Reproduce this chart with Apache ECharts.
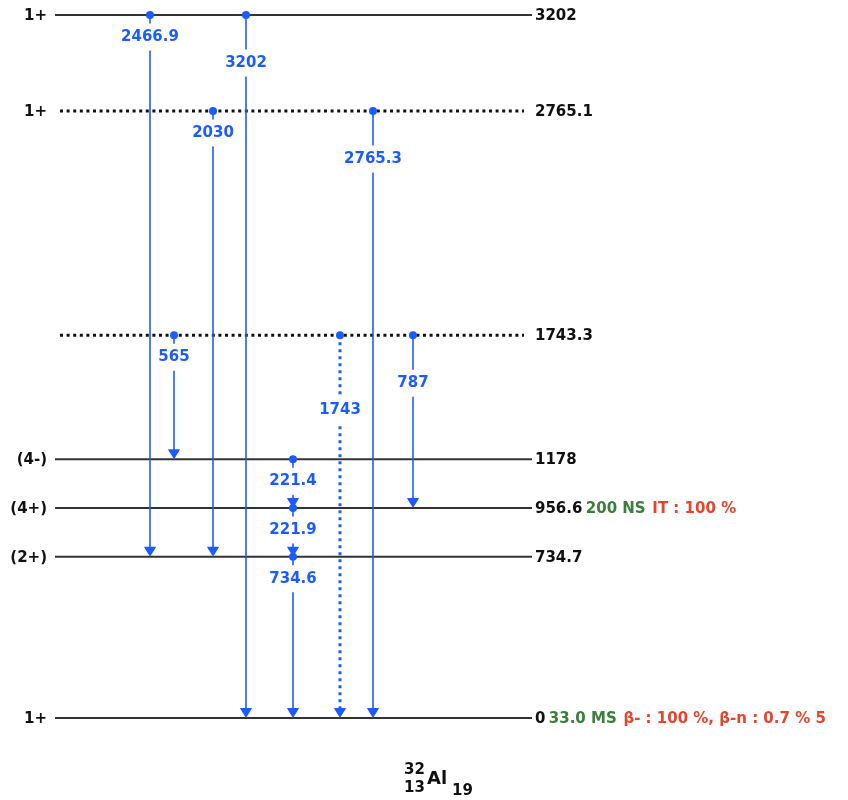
<!DOCTYPE html>
<html>
<head>
<meta charset="utf-8">
<script src="https://cdn.jsdelivr.net/npm/echarts@6/dist/echarts.min.js"></script>
<style>
  html, body { margin: 0; padding: 0; background: #fff; }
  #main { width: 848px; height: 800px; }
</style>
</head>
<body>
<div id="main"></div>
<script>
// levels of 32Al (keV)
var levelEnergy = [0, 734.7, 956.6, 1178, 1743.3, 2765.1, 3202];
var levelLabel = ['0', '734.7', '956.6', '1178', '1743.3', '2765.1', '3202'];
var levelSpin = ['1+', '(2+)', '(4+)', '(4-)', '', '1+', '1+'];
var levelDotted = [false, false, false, false, true, true, false];
var levelHalfLife = ['33.0 MS', '', '200 NS', '', '', '', ''];
var levelDecay = ['β- : 100 %, β-n : 0.7 % 5', '', 'IT : 100 %', '', '', '', ''];

// gamma transitions
var gammaLabel = ['2466.9', '3202', '2030', '2765.3', '565', '1743', '787', '221.4', '221.9', '734.6'];
var gammaFrom = [3202, 3202, 2765.1, 2765.1, 1743.3, 1743.3, 1743.3, 1178, 956.6, 734.7];
var gammaTo = [734.7, 0, 734.7, 0, 1178, 0, 956.6, 956.6, 734.7, 0];
var gammaDotted = [false, false, false, false, false, true, false, false, false, false];

// layout only
var gammaColumn = [150, 246, 213, 373, 174, 340, 413, 293, 293, 293];
var gammaLabelTier = [0, 1, 0, 1, 0, 2, 1, 0, 0, 0];
var tierOffset = [21, 47, 74];
var LINE_X0 = 55, LINE_X1 = 532, DOT_X0 = 60, DOT_X1 = 524;

var BLUE = '#1c5cff', GREEN = '#3b7d3b', RED = '#e8432c', BLACK = '#111';
var FONT = 'bold 15px "DejaVu Sans"';

var chart = echarts.init(document.getElementById('main'));

function renderLevel(params, api) {
  var i = params.dataIndex;
  var y = api.coord([0, api.value(1)])[1];
  var dotted = levelDotted[i];
  var x0 = api.coord([dotted ? DOT_X0 : LINE_X0, 0])[0];
  var x1 = api.coord([dotted ? DOT_X1 : LINE_X1, 0])[0];
  var rt = '{a|' + levelLabel[i] + '}';
  if (levelHalfLife[i]) rt += ' {g|' + levelHalfLife[i] + '}';
  if (levelDecay[i]) rt += '  {r|' + levelDecay[i] + '}';
  var children = [
    {
      type: 'line',
      shape: { x1: x0, y1: y, x2: x1, y2: y },
      style: dotted
        ? { stroke: BLACK, lineWidth: 3, lineDash: [3, 3.6] }
        : { stroke: '#333', lineWidth: 2 }
    },
    {
      type: 'text',
      style: {
        text: rt, x: 535, y: y + 1, verticalAlign: 'middle', align: 'left',
        rich: {
          a: { font: FONT, fill: BLACK },
          g: { font: FONT, fill: GREEN },
          r: { font: FONT, fill: RED }
        }
      }
    }
  ];
  if (levelSpin[i]) {
    children.push({
      type: 'text',
      style: { text: levelSpin[i], x: 47, y: y + 1, align: 'right', verticalAlign: 'middle', font: FONT, fill: BLACK }
    });
  }
  return { type: 'group', children: children };
}

function renderGamma(params, api) {
  var i = params.dataIndex;
  var top = api.coord([api.value(0), api.value(1)]);
  var bot = api.coord([api.value(0), api.value(2)]);
  var x = top[0];
  var ah = 10, aw = 5;
  var lineStyle = gammaDotted[i]
    ? { stroke: BLUE, lineWidth: 3, lineDash: [3, 4] }
    : { stroke: BLUE, lineWidth: 1.6 };
  var ly = top[1] + tierOffset[gammaLabelTier[i]];
  return {
    type: 'group',
    children: [
      { type: 'line', shape: { x1: x, y1: top[1], x2: x, y2: bot[1] - ah + 1 }, style: lineStyle },
      { type: 'circle', shape: { cx: x, cy: top[1], r: 4 }, style: { fill: BLUE } },
      {
        type: 'polygon',
        shape: { points: [[x - aw - 1, bot[1] - ah], [x + aw + 1, bot[1] - ah], [x + aw, bot[1] - ah + 2], [x, bot[1]], [x - aw, bot[1] - ah + 2]] },
        style: { fill: BLUE }
      },
      {
        type: 'text',
        style: {
          text: gammaLabel[i], x: x, y: ly + 1, align: 'center', verticalAlign: 'middle',
          font: FONT, fill: BLUE, backgroundColor: '#fff', padding: [6, 2]
        }
      }
    ]
  };
}

var option = {
  animation: false,
  grid: { left: 0, right: 0, top: 15, bottom: 82 },
  xAxis: { type: 'value', min: 0, max: 848, show: false },
  yAxis: { type: 'value', min: 0, max: 3202, show: false },
  series: [
    {
      type: 'custom',
      clip: false,
      renderItem: renderLevel,
      data: levelEnergy.map(function (e, i) { return [0, e, i]; })
    },
    {
      type: 'custom',
      clip: false,
      renderItem: renderGamma,
      data: gammaLabel.map(function (g, i) { return [gammaColumn[i], gammaFrom[i], gammaTo[i], i]; })
    }
  ],
  graphic: [
    { type: 'text', left: 404, top: 763, style: { text: '32', font: FONT, fill: BLACK } },
    { type: 'text', left: 404, top: 781, style: { text: '13', font: FONT, fill: BLACK } },
    { type: 'text', left: 427, top: 770, style: { text: 'Al', font: 'bold 18px "DejaVu Sans"', fill: BLACK } },
    { type: 'text', left: 452, top: 784, style: { text: '19', font: FONT, fill: BLACK } }
  ]
};

chart.setOption(option);
window.onresize = chart.resize;
</script>
</body>
</html>
